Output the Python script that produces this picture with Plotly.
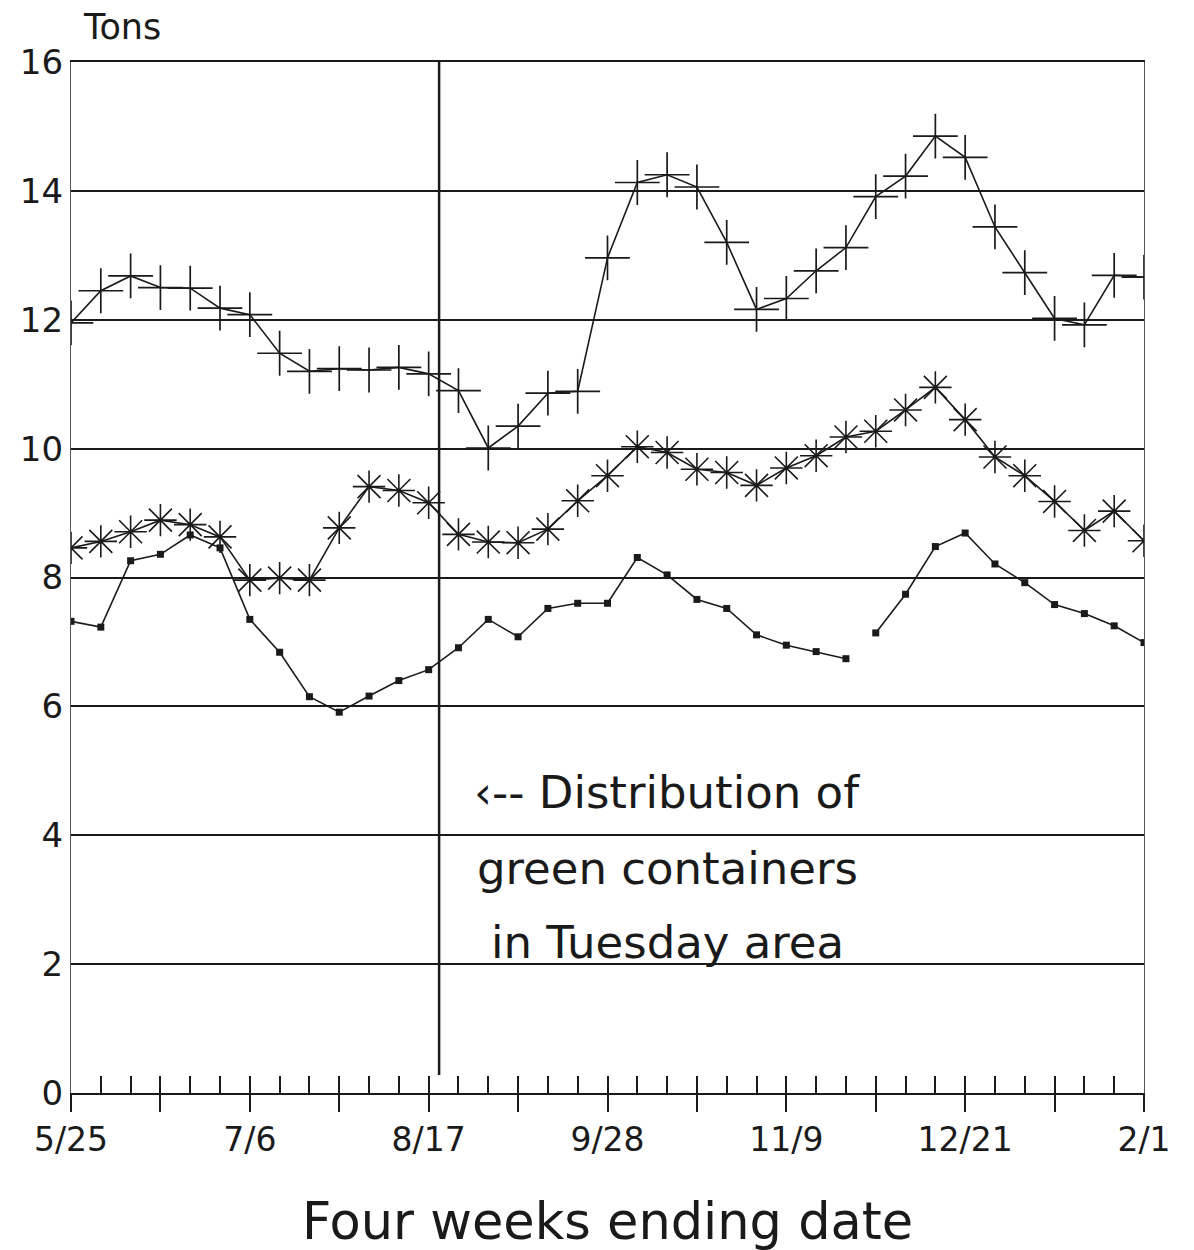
import plotly.graph_objects as go

# ---- data (weekly, four-week moving totals) ----
weeks = list(range(37))  # 0 = 5/25 ... 36 = 2/1
tick_weeks = list(range(0, 37, 3))
tick_text = ["5/25", "", "7/6", "", "8/17", "", "9/28", "", "11/9", "", "12/21", "", "2/1"]

series_plus = [11.95, 12.45, 12.68, 12.50, 12.49, 12.18, 12.08, 11.48, 11.20, 11.24, 11.22, 11.26, 11.16,
               10.90, 10.01, 10.35, 10.86, 10.89, 12.96, 14.13, 14.25, 14.06, 13.20, 12.16, 12.33,
               12.76, 13.12, 13.91, 14.23, 14.85, 14.52, 13.44, 12.73, 12.02, 11.92, 12.69, 12.66]

series_star = [8.46, 8.56, 8.71, 8.89, 8.82, 8.63, 7.96, 7.99, 7.96, 8.77, 9.41, 9.35, 9.16,
               8.67, 8.55, 8.54, 8.75, 9.19, 9.58, 10.03, 9.94, 9.68, 9.63, 9.43, 9.70,
               9.89, 10.18, 10.27, 10.60, 10.95, 10.45, 9.87, 9.58, 9.18, 8.73, 9.03, 8.57]

series_dot = [7.32, 7.23, 8.26, 8.36, 8.66, 8.46, 7.35, 6.84, 6.15, 5.91, 6.16, 6.40, 6.57,
              6.91, 7.35, 7.08, 7.52, 7.60, 7.60, 8.31, 8.04, 7.66, 7.52, 7.11, 6.95,
              6.85, 6.74, 7.14, 7.74, 8.48, 8.69, 8.21, 7.92, 7.58, 7.44, 7.25, 6.99]
dot_break = 27  # no line drawn between week 26 and week 27

distribution_week = 12.35
annotation_lines = ["\u2039-- Distribution of", "green containers", "in Tuesday area"]
annotation_y = [4.66, 3.49, 2.33]

FONT = "DejaVu Sans"
INK = "#1a1a1a"

fig = go.Figure()

fig.add_trace(go.Scatter(
    x=weeks, y=series_plus, mode="lines+markers",
    line=dict(color=INK, width=1.6),
    marker=dict(symbol="cross-thin", size=32, color=INK, line=dict(color=INK, width=1.7)),
    showlegend=False, hoverinfo="skip"))

fig.add_trace(go.Scatter(
    x=weeks, y=series_star, mode="lines+markers",
    line=dict(color=INK, width=1.6),
    marker=dict(symbol="asterisk-open", size=27, color=INK, line=dict(color=INK, width=1.6)),
    showlegend=False, hoverinfo="skip"))

for sl in (slice(0, dot_break), slice(dot_break, None)):
    fig.add_trace(go.Scatter(
        x=weeks[sl], y=series_dot[sl], mode="lines+markers",
        line=dict(color=INK, width=1.6),
        marker=dict(symbol="square", size=7, color=INK),
        showlegend=False, hoverinfo="skip"))

# invisible trace so the minor-tick axis is drawn
fig.add_trace(go.Scatter(x=[0, 36], y=[0, 0], xaxis="x2", yaxis="y", mode="lines",
                         line=dict(width=0), showlegend=False, hoverinfo="skip"))

fig.add_shape(type="line", xref="x", yref="y",
              x0=distribution_week, x1=distribution_week, y0=0.28, y1=16,
              line=dict(color=INK, width=2.5))

for txt, yy in zip(annotation_lines, annotation_y):
    fig.add_annotation(x=20.0, y=yy, xref="x", yref="y", text=txt, showarrow=False,
                       font=dict(family=FONT, size=45, color=INK), xanchor="center", yanchor="middle")

fig.add_annotation(x=0.009, y=1.034, xref="paper", yref="paper", text="Tons", showarrow=False,
                   font=dict(family=FONT, size=35, color=INK), xanchor="left", yanchor="middle")
fig.add_annotation(x=0.5, y=-0.125, xref="paper", yref="paper", text="Four weeks ending date",
                   showarrow=False, font=dict(family=FONT, size=51, color=INK),
                   xanchor="center", yanchor="middle")

fig.update_layout(
    width=1186, height=1242,
    margin=dict(l=60, r=50, t=54, b=157),
    paper_bgcolor="white", plot_bgcolor="white",
    font=dict(family=FONT, color=INK),
    xaxis=dict(range=[0, 36], tickvals=tick_weeks, ticktext=tick_text,
               ticks="outside", ticklen=17, tickwidth=1.5, tickcolor=INK,
               tickfont=dict(size=33, family=FONT, color=INK),
               showline=True, linecolor=INK, linewidth=1.5, mirror=True,
               showgrid=False, zeroline=False),
    xaxis2=dict(range=[0, 36], overlaying="x", anchor="y", side="bottom",
                tickvals=weeks, ticks="inside", ticklen=17, tickwidth=1.5, tickcolor=INK,
                showticklabels=False, showgrid=False, zeroline=False, showline=False),
    yaxis=dict(range=[0, 16], dtick=2, tickfont=dict(size=34, family=FONT, color=INK),
               showline=True, linecolor="#555", linewidth=1.2, mirror=True,
               showgrid=True, gridcolor=INK, gridwidth=1.8, zeroline=False, ticks=""),
)

fig.write_html("out.html")
